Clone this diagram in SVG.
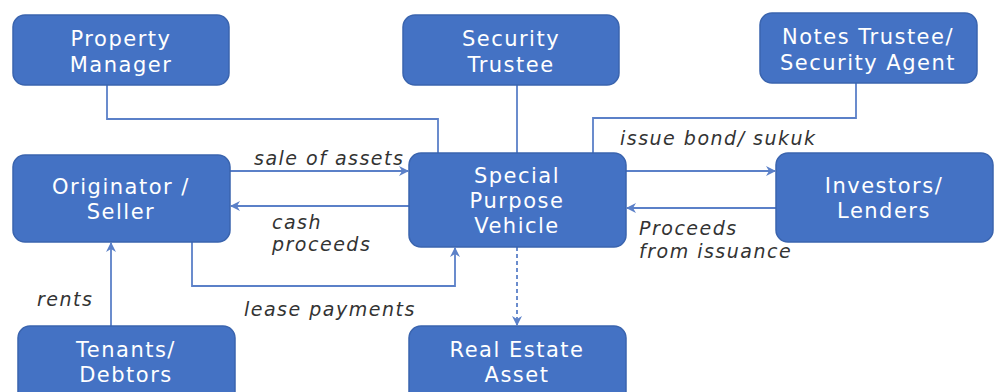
<svg xmlns="http://www.w3.org/2000/svg" width="1000" height="392" viewBox="0 0 1000 392">
<defs>
<style>
.box{fill:#4472C4;stroke:#3A64AE;stroke-width:1.5}
.nt{fill:#fff;font-family:"DejaVu Sans",sans-serif;font-size:21px;letter-spacing:1.5px;text-anchor:middle}
.ln{fill:none;stroke:#5B80C8;stroke-width:1.8}
.dash{stroke-dasharray:4 3}
.lb{fill:#333;font-family:"DejaVu Sans",sans-serif;font-size:19px;letter-spacing:1.5px;font-style:italic}
</style>
<marker id="ah2" viewBox="0 0 10 10" refX="9" refY="5" markerWidth="10" markerHeight="10" orient="auto" markerUnits="userSpaceOnUse">
<path d="M0,0 L10,5 L0,10 L3,5 z" fill="#5B80C8"/>
</marker>
</defs>
<rect width="1000" height="392" fill="#fff"/>
<g id="connectors">
<polyline class="ln" points="107,85 107,119 438,119 438,153"/>
<line class="ln" x1="517" y1="85" x2="517" y2="153"/>
<polyline class="ln" points="856,83 856,118 593,118 593,153"/>
<line class="ln" x1="230" y1="171" x2="408" y2="171" marker-end="url(#ah2)"/>
<line class="ln" x1="409" y1="206" x2="231" y2="206" marker-end="url(#ah2)"/>
<polyline class="ln" points="192,242 192,286 455,286 455,248" marker-end="url(#ah2)"/>
<line class="ln" x1="111" y1="326" x2="111" y2="243" marker-end="url(#ah2)"/>
<line class="ln" x1="626" y1="171" x2="775" y2="171" marker-end="url(#ah2)"/>
<line class="ln" x1="776" y1="208" x2="627" y2="208" marker-end="url(#ah2)"/>
<line class="ln dash" x1="517" y1="247" x2="517" y2="325" marker-end="url(#ah2)"/>
<text class="lb" x="254" y="165">sale of assets</text>
<text class="lb" x="272" y="229">cash</text>
<text class="lb" x="272" y="251">proceeds</text>
<text class="lb" x="244" y="316">lease payments</text>
<text class="lb" x="37" y="306">rents</text>
<text class="lb" x="620" y="145">issue bond/ sukuk</text>
<text class="lb" x="639" y="235">Proceeds</text>
<text class="lb" x="639" y="258">from issuance</text>
</g>
<g id="property-manager">
<rect class="box" x="13" y="15" width="216" height="70" rx="12"/>
<text class="nt" x="121" y="46">Property</text>
<text class="nt" x="121" y="72">Manager</text>
</g>
<g id="security-trustee">
<rect class="box" x="403" y="15" width="216" height="70" rx="12"/>
<text class="nt" x="511" y="46">Security</text>
<text class="nt" x="511" y="72">Trustee</text>
</g>
<g id="notes-trustee">
<rect class="box" x="760" y="13" width="217" height="70" rx="12"/>
<text class="nt" x="868" y="44">Notes Trustee/</text>
<text class="nt" x="868" y="70">Security Agent</text>
</g>
<g id="originator">
<rect class="box" x="13" y="155" width="217" height="87" rx="12"/>
<text class="nt" x="121" y="194">Originator /</text>
<text class="nt" x="121" y="219">Seller</text>
</g>
<g id="spv">
<rect class="box" x="409" y="153" width="217" height="94" rx="12"/>
<text class="nt" x="517" y="183">Special</text>
<text class="nt" x="517" y="208">Purpose</text>
<text class="nt" x="517" y="233">Vehicle</text>
</g>
<g id="investors">
<rect class="box" x="776" y="153" width="217" height="89" rx="12"/>
<text class="nt" x="884" y="193">Investors/</text>
<text class="nt" x="884" y="218">Lenders</text>
</g>
<g id="tenants">
<rect class="box" x="18" y="326" width="217" height="80" rx="12"/>
<text class="nt" x="126" y="357">Tenants/</text>
<text class="nt" x="126" y="382">Debtors</text>
</g>
<g id="real-estate">
<rect class="box" x="409" y="326" width="217" height="80" rx="12"/>
<text class="nt" x="517" y="357">Real Estate</text>
<text class="nt" x="517" y="382">Asset</text>
</g>
</svg>
